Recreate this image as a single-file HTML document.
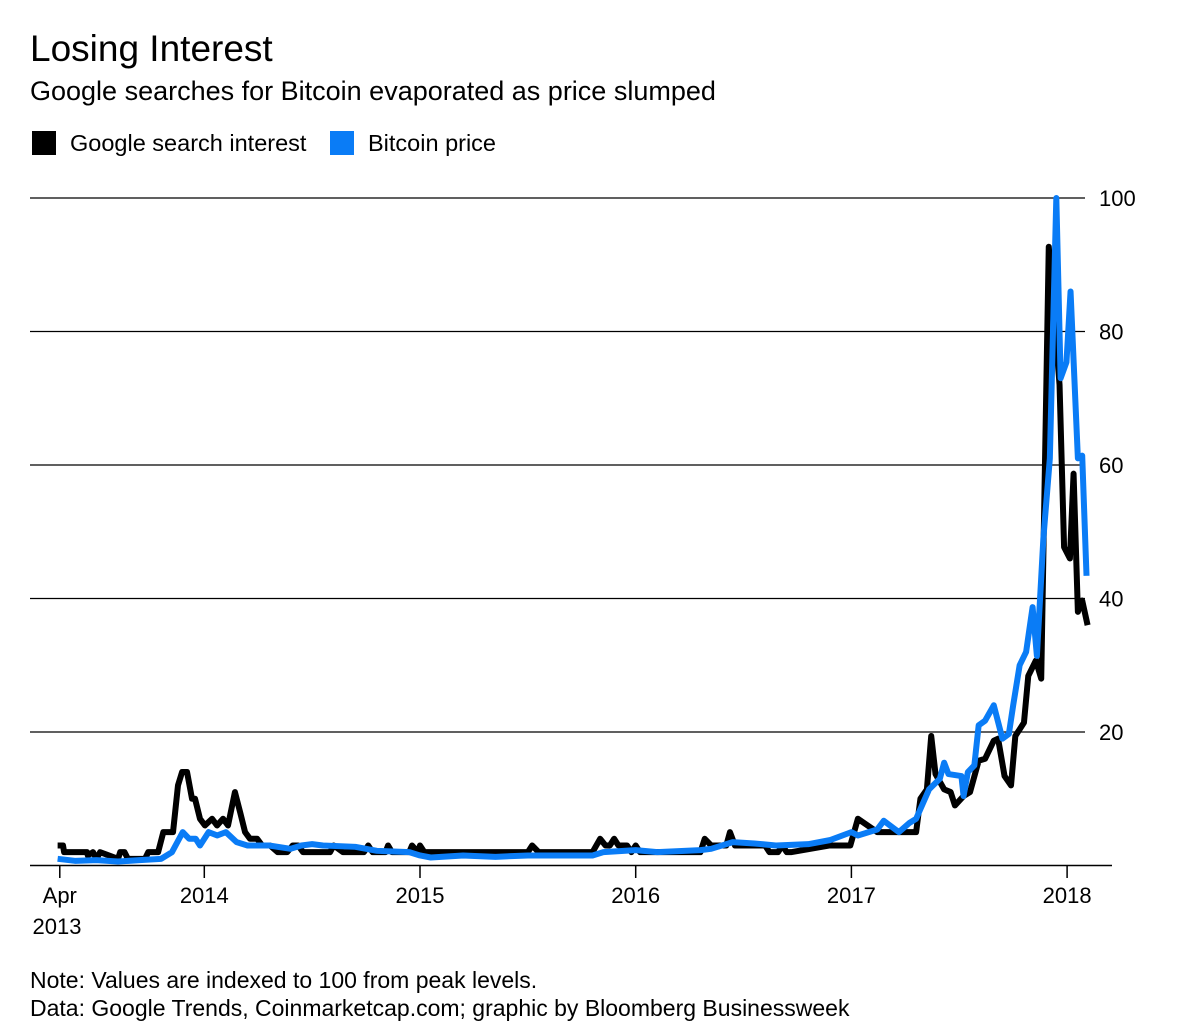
<!DOCTYPE html>
<html><head><meta charset="utf-8"><style>
body{margin:0;background:#fff;width:1200px;height:1036px;overflow:hidden;font-family:"Liberation Sans",sans-serif;color:#000}
.t{position:absolute;white-space:nowrap}
</style></head><body>
<div class="t" style="left:30px;top:28px;font-size:37px">Losing Interest</div>
<div class="t" style="left:30px;top:76px;font-size:27px">Google searches for Bitcoin evaporated as price slumped</div>
<div class="t" style="left:32px;top:130px;font-size:23.5px"><span style="display:inline-block;width:24px;height:24px;background:#000;vertical-align:-4px;margin-right:14px"></span>Google search interest</div>
<div class="t" style="left:330px;top:130px;font-size:23.5px"><span style="display:inline-block;width:24px;height:24px;background:#0a7cf6;vertical-align:-4px;margin-right:14px"></span>Bitcoin price</div>
<svg id="chart" width="1200" height="1036" style="position:absolute;left:0;top:0"></svg>
<div class="t" style="left:30px;top:967px;font-size:23px">Note: Values are indexed to 100 from peak levels.</div>
<div class="t" style="left:30px;top:995px;font-size:23px">Data: Google Trends, Coinmarketcap.com; graphic by Bloomberg Businessweek</div>
<script>
const yTicks=[20,40,60,80,100];
const xTickVals=[2013.33,2014,2015,2016,2017,2018];
const xTickLabels=["Apr","2014","2015","2016","2017","2018"];
const searchDates=[2013.32,2013.345,2013.35,2013.456,2013.46,2013.484,2013.50,2013.517,2013.60,2013.61,2013.63,2013.646,2013.665,2013.725,2013.74,2013.786,2013.81,2013.855,2013.878,2013.897,2013.92,2013.943,2013.957,2013.98,2014.003,2014.036,2014.059,2014.087,2014.11,2014.142,2014.166,2014.189,2014.212,2014.245,2014.268,2014.305,2014.34,2014.384,2014.41,2014.435,2014.458,2014.583,2014.60,2014.643,2014.66,2014.74,2014.76,2014.78,2014.84,2014.852,2014.87,2014.95,2014.963,2014.99,2015.0,2015.02,2015.5,2015.52,2015.55,2015.8,2015.835,2015.86,2015.88,2015.9,2015.92,2015.96,2015.98,2016.0,2016.02,2016.1,2016.12,2016.30,2016.32,2016.35,2016.42,2016.437,2016.46,2016.6,2016.62,2016.66,2016.68,2016.7,2016.72,2016.9,2016.95,2016.995,2017.03,2017.12,2017.30,2017.32,2017.35,2017.37,2017.39,2017.43,2017.46,2017.48,2017.52,2017.55,2017.59,2017.62,2017.66,2017.68,2017.71,2017.74,2017.76,2017.80,2017.82,2017.855,2017.88,2017.915,2017.965,2017.986,2018.013,2018.03,2018.05,2018.07,2018.095];
const searchValues=[3,3,2,2,1.5,2,1,2,1,2,2,1,1,1,2,2,5,5,12,14,14,10,10,7,6,7,6,7,6,11,8,5,4,4,3,3,2,2,3,3,2,2,3,2,2,2,3,2,2,3,2,2,3,2,3,2,2,3,2,2,4,3,3,4,3,3,2,3,2,2,2,2,4,3,3,5,3,3,2,2,3,2,2,3,3,3,7,5,5,10,11.4,19.4,13.7,11.4,11,9,10.4,11,15.7,16,18.7,19,13.4,12,19.4,21.4,28.4,30.7,28,92.7,72,47.7,46,58.7,38,39.7,36];
const priceDates=[2013.32,2013.4,2013.5,2013.6,2013.7,2013.8,2013.85,2013.9,2013.93,2013.96,2013.98,2014.02,2014.06,2014.1,2014.15,2014.2,2014.3,2014.4,2014.45,2014.5,2014.55,2014.7,2014.8,2014.95,2015.0,2015.05,2015.2,2015.35,2015.5,2015.6,2015.8,2015.85,2016.0,2016.1,2016.3,2016.35,2016.45,2016.55,2016.65,2016.8,2016.9,2017.0,2017.03,2017.12,2017.15,2017.22,2017.27,2017.30,2017.36,2017.41,2017.43,2017.45,2017.51,2017.52,2017.54,2017.57,2017.59,2017.62,2017.66,2017.70,2017.73,2017.75,2017.78,2017.81,2017.84,2017.86,2017.89,2017.92,2017.95,2017.97,2017.997,2018.016,2018.05,2018.07,2018.09];
const priceValues=[1,0.7,0.8,0.6,0.8,1,2,5,4,4,3,5,4.5,5,3.5,3,3,2.5,3,3.2,3,2.8,2.2,2,1.5,1.2,1.5,1.3,1.5,1.5,1.5,2,2.3,2,2.3,2.5,3.5,3.3,3,3.2,3.8,5,4.5,5.4,6.7,5,6.4,7,11.4,13,15.4,13.7,13.4,10.4,14,15,21,21.7,24,19,19.7,24,30,32,38.7,31.4,49,61,100,73,75.4,86,61,61.4,43.4];

const svg=document.getElementById('chart');
const NS='http://www.w3.org/2000/svg';
const x=t=>204.3+(t-2014)*215.7;
const y=v=>865.5-v*6.675;
function mk(tag,attrs){const e=document.createElementNS(NS,tag);for(const k in attrs)e.setAttribute(k,attrs[k]);svg.appendChild(e);return e;}
yTicks.forEach(v=>{
  const l=mk('line',{x1:30,x2:1085,y1:y(v),y2:y(v),stroke:'#000','stroke-width':1.3});
  
  
  const t=mk('text',{x:1099,y:y(v)+8,'font-size':22,'font-family':'Liberation Sans, sans-serif'});
  t.textContent=v;
  
  
});
const ax=mk('line',{x1:30,x2:1112,y1:865.5,y2:865.5,stroke:'#000','stroke-width':1.5});


xTickVals.forEach((v,i)=>{
  const tk=mk('line',{x1:x(v),x2:x(v),y1:865,y2:878,stroke:'#000','stroke-width':1.5});
  
  
  const t=mk('text',{x:x(v),y:903,'font-size':22,'text-anchor':'middle','font-family':'Liberation Sans, sans-serif'});
  t.textContent=xTickLabels[i];
  
  
});
const yr=mk('text',{x:57,y:934,'font-size':22,'text-anchor':'middle','font-family':'Liberation Sans, sans-serif'});
yr.textContent='2013';


function line(ds,vs,color,name){
  const p=mk('polyline',{points:ds.map((d,i)=>x(d)+','+y(vs[i])).join(' '),fill:'none',stroke:color,'stroke-width':6,'stroke-linejoin':'round'});
  
  
}
line(searchDates,searchValues,'#000','search-interest-line');
line(priceDates,priceValues,'#0a7cf6','bitcoin-price-line');
</script>
</body></html>
